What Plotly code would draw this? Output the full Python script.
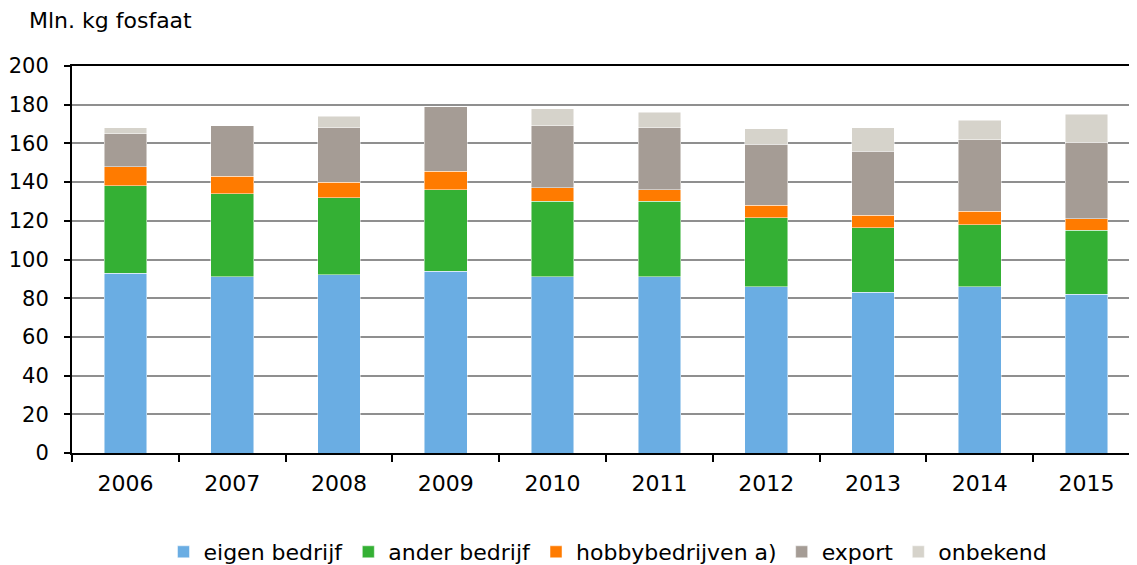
import plotly.graph_objects as go

years = ["2006", "2007", "2008", "2009", "2010", "2011", "2012", "2013", "2014", "2015"]
eigen_bedrijf = [93, 91, 92, 94, 91, 91, 86, 83, 86, 82]
ander_bedrijf = [45, 43, 40, 42, 39, 39, 35.5, 33.5, 32, 33]
hobbybedrijven = [10, 9, 8, 9.5, 7, 6, 6.5, 6.5, 7, 6]
export = [17, 26, 28, 33.5, 32, 32, 31.5, 33, 37, 39.5]
onbekend = [3, 0, 6, 0, 9, 8, 8, 12, 10, 14.5]

series = [
    ("eigen bedrijf", eigen_bedrijf, "#6aade3"),
    ("ander bedrijf", ander_bedrijf, "#34b034"),
    ("hobbybedrijven a)", hobbybedrijven, "#ff7b00"),
    ("export", export, "#a59c95"),
    ("onbekend", onbekend, "#d6d3cb"),
]

fig = go.Figure()
for name, vals, col in series:
    fig.add_trace(go.Bar(
        x=years, y=vals, name=name,
        marker=dict(color=col, line=dict(color="rgba(255,255,255,0.6)", width=0.8)),
    ))

font_family = "DejaVu Sans, Verdana, sans-serif"
W, H = 1129, 557
L, R, T, B = 64, 0, 58, 112
PW, PH = W - L - R, H - T - B

fig.update_layout(
    barmode="stack",
    bargap=0.6,
    width=W, height=H,
    autosize=False,
    margin=dict(l=L, r=R, t=T, b=B, autoexpand=False),
    plot_bgcolor="white",
    paper_bgcolor="white",
    font=dict(family=font_family, size=22, color="black"),
    showlegend=True,
    legend=dict(
        orientation="h", x=(600 - L) / PW, xanchor="center",
        y=(T + PH - 544) / PH, yanchor="middle",
        font=dict(size=22, family=font_family), traceorder="normal",
        itemwidth=30,
    ),
    annotations=[dict(
        text="Mln. kg fosfaat", xref="paper", yref="paper",
        x=(20 - L) / PW, y=1 + (T + 1) / PH, xanchor="left", yanchor="top",
        showarrow=False, font=dict(size=22, family=font_family), borderpad=0,
    )],
)
fig.update_xaxes(
    type="category",
    range=[-0.5, PW / 106.8 - 0.5],
    showline=True, linecolor="black", linewidth=2, mirror=True,
    ticks="outside", tickson="boundaries", ticklen=7, tickwidth=2, tickcolor="black",
    showgrid=False,
    tickfont=dict(size=22),
    ticklabelstandoff=10,
)
fig.update_yaxes(
    range=[0, 200], dtick=20,
    showline=True, linecolor="black", linewidth=2,
    ticks="outside", ticklen=6, tickwidth=2, tickcolor="black",
    showgrid=True, gridcolor="#8f8f8f", gridwidth=1.5,
    zeroline=False,
    tickfont=dict(size=21),
    ticklabelstandoff=11,
    automargin=False,
)

fig.write_html("out.html")
